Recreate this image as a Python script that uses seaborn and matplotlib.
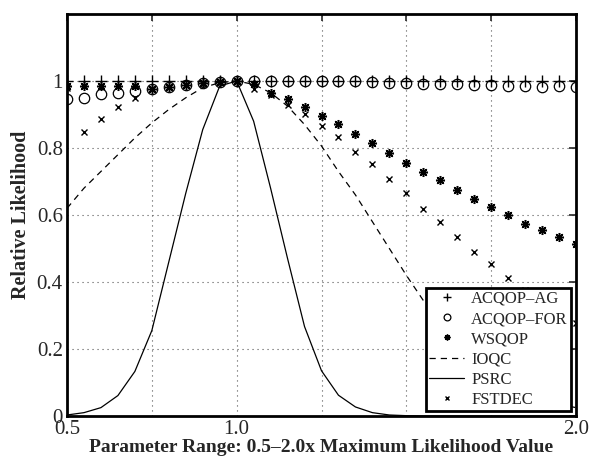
import matplotlib
matplotlib.use("Agg")
import matplotlib.pyplot as plt
import seaborn as sns
import pandas as pd

x_vals = [0.50, 0.55, 0.60, 0.65, 0.70, 0.75, 0.80, 0.85, 0.90, 0.95, 1.00,
          1.05, 1.10, 1.15, 1.20, 1.25, 1.30, 1.35, 1.40, 1.45, 1.50,
          1.55, 1.60, 1.65, 1.70, 1.75, 1.80, 1.85, 1.90, 1.95, 2.00]

acqop_ag = [1.0, 1.0, 1.0, 1.0, 1.0, 1.0, 1.0, 1.0, 1.0, 1.0, 1.0,
            1.0, 1.0, 1.0, 1.0, 1.0, 1.0, 1.0, 1.0, 1.0, 1.0,
            1.0, 1.0, 1.0, 1.0, 1.0, 1.0, 1.0, 1.0, 1.0, 1.0]
acqop_for = [0.945, 0.950, 0.960, 0.965, 0.970, 0.977, 0.983, 0.988, 0.993, 0.996, 1.0,
             1.0, 1.0, 1.0, 1.0, 1.0, 1.0, 1.0, 0.996, 0.995, 0.995,
             0.991, 0.991, 0.991, 0.988, 0.988, 0.986, 0.986, 0.983, 0.984, 0.983]
wsqop = [0.985, 0.985, 0.985, 0.985, 0.985, 0.977, 0.983, 0.988, 0.993, 0.997, 1.0,
         0.990, 0.965, 0.945, 0.922, 0.897, 0.871, 0.843, 0.814, 0.786, 0.756,
         0.728, 0.703, 0.676, 0.648, 0.623, 0.599, 0.574, 0.554, 0.534, 0.512]
ioqc = [0.62, 0.68, 0.73, 0.78, 0.83, 0.875, 0.915, 0.95, 0.98, 0.995, 1.0,
        0.99, 0.965, 0.925, 0.87, 0.806, 0.73, 0.66, 0.58, 0.50, 0.42,
        0.345, 0.28, 0.22, 0.17, 0.13, 0.10, 0.07, 0.05, 0.035, 0.025]
psrc = [0.003, 0.01, 0.025, 0.061, 0.133, 0.255, 0.46, 0.665, 0.855, 0.985, 1.0,
        0.88, 0.68, 0.47, 0.267, 0.135, 0.062, 0.027, 0.01, 0.003, 0.001,
        0.0, 0.0, 0.0, 0.0, 0.0, 0.0, 0.0, 0.0, 0.0, 0.0]
fstdec = [0.98, 0.849, 0.888, 0.922, 0.949, 0.975, 0.982, 0.987, 0.992, 0.996, 1.0,
          0.975, 0.957, 0.927, 0.902, 0.865, 0.832, 0.789, 0.753, 0.706, 0.666,
          0.619, 0.578, 0.535, 0.491, 0.454, 0.412, 0.375, 0.34, 0.31, 0.278]

x_ticks = [0.5, 0.75, 1.0, 1.25, 1.5, 1.75, 2.0]
x_ticklabels = ["0.5", "", "1.0", "", "", "", "2.0"]
y_ticks = [0, 0.2, 0.4, 0.6, 0.8, 1.0]
y_ticklabels = ["0", "0.2", "0.4", "0.6", "0.8", "1"]

sns.set_style("white")
plt.rcParams["font.family"] = ["Liberation Serif", "DejaVu Serif"]

fig = plt.figure(figsize=(5.95, 4.62), dpi=100)
ax = fig.add_axes([67 / 595, 1 - 416 / 462, (576 - 67) / 595, (416 - 14) / 462])

df = pd.DataFrame({"x": x_vals, "ag": acqop_ag, "for": acqop_for, "ws": wsqop,
                   "io": ioqc, "ps": psrc, "fs": fstdec})

mk = dict(color="black", linestyle="none", markeredgecolor="black")
sns.lineplot(data=df, x="x", y="ag", ax=ax, marker="+", markersize=9,
             markeredgewidth=1.0, label="ACQOP–AG", **mk)
sns.lineplot(data=df, x="x", y="for", ax=ax, marker="o", markersize=7.5,
             markerfacecolor="none", markeredgewidth=0.9, label="ACQOP–FOR", **mk)
sns.lineplot(data=df, x="x", y="ws", ax=ax, marker=(8, 2, 0), markersize=6.5,
             markeredgewidth=1.1, label="WSQOP", **mk)
sns.lineplot(data=df, x="x", y="io", ax=ax, color="black", linewidth=0.9,
             dashes=(5, 4), label="IOQC")
sns.lineplot(data=df, x="x", y="ps", ax=ax, color="black", linewidth=0.9,
             label="PSRC")
sns.lineplot(data=df, x="x", y="fs", ax=ax, marker="x", markersize=5,
             markeredgewidth=1.0, label="FSTDEC", **mk)

ax.set_xlim(0.5, 2.0)
ax.set_ylim(0, 1.2)
ax.set_xticks(x_ticks)
ax.set_xticklabels(x_ticklabels)
ax.set_yticks(y_ticks)
ax.set_yticklabels(y_ticklabels)
ax.tick_params(axis="both", direction="in", length=5, width=1.2, labelsize=15,
               top=True, right=True, pad=3)
ax.grid(True, linestyle=(0, (1, 3.5)), color="#555555", linewidth=0.8)
for s in ax.spines.values():
    s.set_linewidth(2.0)
    s.set_color("black")

ax.set_xlabel("Parameter Range: 0.5–2.0x Maximum Likelihood Value",
              fontsize=14, fontweight="bold", labelpad=0)
ax.set_ylabel("Relative Likelihood", fontsize=14.5, fontweight="bold", labelpad=4)

leg = ax.legend(loc="lower right", fontsize=12, frameon=True, fancybox=False,
                framealpha=1, edgecolor="black", borderaxespad=0.3,
                labelspacing=0.25, handlelength=2.1, handletextpad=0.4,
                borderpad=0.2, markerscale=0.65)
leg.get_frame().set_linewidth(2.0)

fig.savefig("out.png", dpi=100)
